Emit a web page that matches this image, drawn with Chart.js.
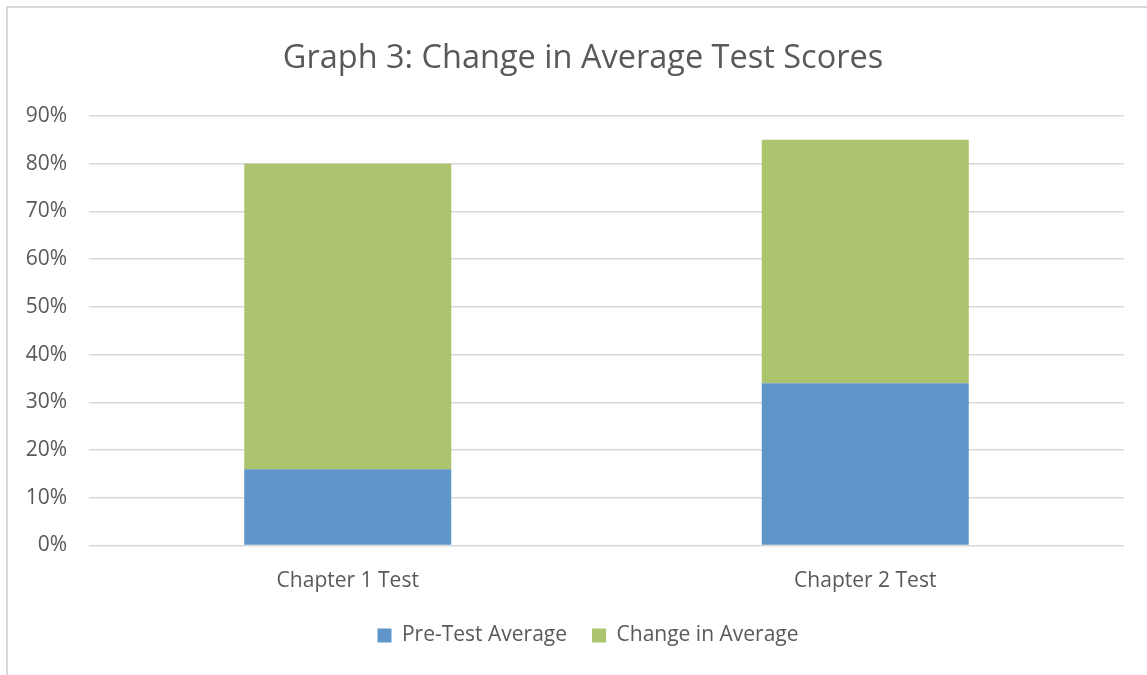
<!DOCTYPE html>
<html>
<head>
<meta charset="utf-8">
<script src="https://cdn.jsdelivr.net/npm/chart.js@4"></script>
<style>
  html, body { margin: 0; padding: 0; background: #fff; }
  #frame { position: absolute; left: 6px; top: 6px; width: 1150px; height: 680px; border: 2px solid #d9d9d9; box-sizing: border-box; }
  #wrap { position: absolute; left: 0; top: 0; width: 1147px; height: 675px; }
</style>
</head>
<body>
<div id="frame"></div>
<div id="wrap"><canvas id="chart"></canvas></div>
<script>
// Chart values
const categories = ['Chapter 1 Test', 'Chapter 2 Test'];
const preTestAverage = [0.16, 0.34];
const changeInAverage = [0.64, 0.51];

const textColor = '#595959';
const fontFamily = "'Open Sans', sans-serif";

// Excel centres the title and legend a bit to the right of the canvas middle
const shiftBlocks = {
    id: 'shiftBlocks',
    afterLayout(chart) {
        chart.titleBlock.left += 21;
        chart.titleBlock.right += 21;
        chart.legend.left += 26;
        chart.legend.right += 26;
    }
};

const ctx = document.getElementById('chart').getContext('2d');
new Chart(ctx, {
    type: 'bar',
    data: {
        labels: categories,
        datasets: [
            {
                label: 'Pre-Test Average',
                data: preTestAverage,
                backgroundColor: '#5f95c8'
            },
            {
                label: 'Change in Average',
                data: changeInAverage,
                backgroundColor: '#abc46d'
            }
        ]
    },
    options: {
        responsive: true,
        maintainAspectRatio: false,
        animation: false,
        layout: { padding: { left: 0, right: 23, top: 0, bottom: 19 } },
        datasets: {
            bar: { categoryPercentage: 1, barPercentage: 0.4 }
        },
        plugins: {
            title: {
                display: true,
                text: 'Graph 3: Change in Average Test Scores',
                color: textColor,
                font: { family: fontFamily, size: 32.5, weight: 'normal', lineHeight: 1.2 },
                padding: { top: 39.5, bottom: 37.5 }
            },
            legend: {
                position: 'bottom',
                labels: {
                    color: textColor,
                    font: { family: fontFamily, size: 21 },
                    boxWidth: 14,
                    boxHeight: 14,
                    padding: 25
                }
            },
            tooltip: { enabled: false }
        },
        scales: {
            x: {
                stacked: true,
                grid: { display: false, drawTicks: false },
                border: { display: false },
                ticks: {
                    color: textColor,
                    font: { family: fontFamily, size: 21 },
                    padding: 22.5
                },
                afterFit: scale => { scale.height = 54.5; }
            },
            y: {
                stacked: true,
                min: 0,
                max: 0.9,
                grid: { color: '#d9d9d9', lineWidth: 1.5, drawTicks: false },
                border: { display: false },
                ticks: {
                    stepSize: 0.1,
                    color: textColor,
                    font: { family: fontFamily, size: 21 },
                    padding: 22,
                    callback: v => Math.round(v * 100) + '%'
                },
                afterFit: scale => { scale.width = 89; }
            }
        }
    },
    plugins: [shiftBlocks]
});
</script>
</body>
</html>
